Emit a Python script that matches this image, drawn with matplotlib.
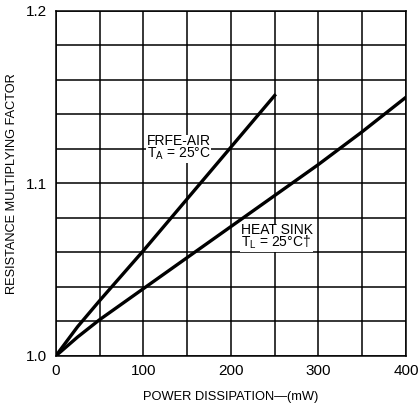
import numpy as np
import matplotlib
matplotlib.use("Agg")
import matplotlib.pyplot as plt

# curve data
free_air_mw = [0, 25, 50, 100, 150, 200, 250]
free_air_k = [1.0, 1.017, 1.032, 1.061, 1.091, 1.121, 1.151]

heat_sink_mw = [0, 25, 50, 100, 150, 200, 250, 300, 350, 400]
heat_sink_k = [1.0, 1.011, 1.021, 1.039, 1.057, 1.075, 1.093, 1.111, 1.130, 1.150]

x_ticks = [0, 100, 200, 300, 400]
x_tick_labels = ["0", "100", "200", "300", "400"]
y_ticks = [1.0, 1.1, 1.2]
y_tick_labels = ["1.0", "1.1", "1.2"]

plt.rcParams['font.family'] = ['Liberation Sans', 'DejaVu Sans']

fig = plt.figure(figsize=(4.19, 4.05), dpi=100)
ax = fig.add_axes([0.133, 0.121, 0.836, 0.852])

# grid every 50 mW and every 0.02
for gx in np.arange(0, 401, 50):
    ax.axvline(gx, color='black', linewidth=1.1, zorder=1)
for gy in np.arange(1.0, 1.2001, 0.02):
    ax.axhline(gy, color='black', linewidth=1.1, zorder=1)

ax.plot(free_air_mw, free_air_k, color='black', linewidth=2.4, zorder=3)
ax.plot(heat_sink_mw, heat_sink_k, color='black', linewidth=2.4, zorder=3)

# curve labels
ax.text(104, 1.1205, "FRFE-AIR\nT$_\\mathregular{A}$ = 25°C", fontsize=10, linespacing=0.8,
        ha='left', va='center', zorder=4,
        bbox=dict(facecolor='white', edgecolor='none', pad=0.3))
ax.text(211, 1.069, "HEAT SINK\nT$_\\mathregular{L}$ = 25°C†", fontsize=10, linespacing=0.8,
        ha='left', va='center', zorder=4,
        bbox=dict(facecolor='white', edgecolor='none', pad=0.3))

ax.set_xlim(0, 400)
ax.set_ylim(1.0, 1.2)
ax.set_xticks(x_ticks)
ax.set_xticklabels(x_tick_labels)
ax.set_yticks(y_ticks)
ax.set_yticklabels(y_tick_labels)
ax.tick_params(length=0, labelsize=11, pad=6)

for s in ax.spines.values():
    s.set_linewidth(1.1)

ax.set_xlabel("POWER DISSIPATION—(mW)", fontsize=9.3, labelpad=9)
ax.set_ylabel("RESISTANCE MULTIPLYING FACTOR", fontsize=9.2, va='center')
ax.yaxis.set_label_coords(-0.125, 0.5)

fig.savefig("out.png", dpi=100)
